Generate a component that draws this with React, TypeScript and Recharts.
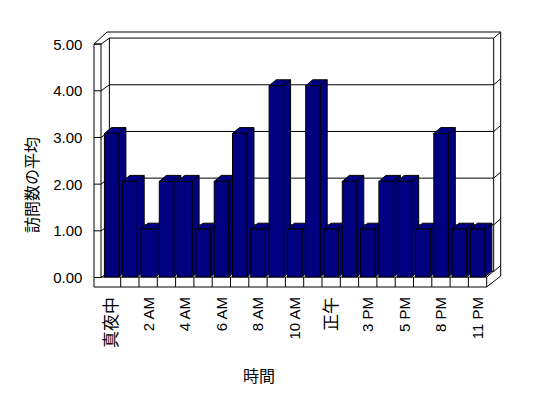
import React from 'react';
import { BarChart, Bar, XAxis, YAxis, CartesianGrid } from 'recharts';

// categories (hours that have data) and average visit counts
const hours = ['真夜中', '1 AM', '2 AM', '3 AM', '4 AM', '5 AM', '6 AM', '7 AM', '8 AM', '9 AM', '10 AM', '11 AM', '正午', '1 PM', '3 PM', '4 PM', '5 PM', '7 PM', '8 PM', '10 PM', '11 PM'];
const visits = [3, 2, 1, 2, 2, 1, 2, 3, 1, 4, 1, 4, 1, 2, 1, 2, 2, 1, 3, 1, 1];
const yTicks = [0, 1, 2, 3, 4, 5];

const data = hours.map((h, i) => ({ hour: h, visits: visits[i] }));

// plot area / fake 3D geometry
const W = 548;
const H = 398;
const PL = 102.4;
const PT = 38;
const PR = 486.7;
const PB = 277;
const YW = 60;
const XH = 80;
const DX = 7;
const DY = 6;
const WALL_L = 94;
const NAVY = '#000080';
const FONT = "'Liberation Sans', Arial, 'Noto Sans CJK JP', sans-serif";

const bandW = (PR - PL) / hours.length;
// the front axis is drawn a little flatter than the bars (perspective)
const front = (y: number) => PB + 0.5 - (PB - y) * 0.9766;

const Bar3D = (props: any) => {
  const { x, y, width, height } = props;
  if (height == null || height <= 0) return null;
  const r = x + width;
  return (
    <g stroke="#000" strokeWidth={1} fill={NAVY}>
      <polygon points={`${r},${y} ${r + DX},${y - DY} ${r + DX},${y + height - DY} ${r},${y + height}`} />
      <polygon points={`${x},${y} ${x + DX},${y - DY} ${r + DX},${y - DY} ${r},${y}`} />
      <rect x={x} y={y} width={width} height={height} />
    </g>
  );
};

const gridLine = (props: any) => {
  const g = front(props.y1);
  return (
    <g key={`gl-${props.index}-${g}`} stroke="#000" strokeWidth={1} fill="none">
      <line x1={WALL_L} y1={g} x2={PL - 1.4} y2={g} />
      <line x1={PL - 1.4} y1={g} x2={PL + DX} y2={g - DY} />
      <line x1={PL + DX} y1={g - DY} x2={PR + DX} y2={g - DY} />
      <line x1={PR + DX} y1={g - DY} x2={PR + DX + 7} y2={g - DY - 6} />
    </g>
  );
};

const YTick = (props: any) => {
  const { y, payload } = props;
  return (
    <text x={PL - 20} y={front(y)} textAnchor="end" dominantBaseline="central" fontSize={15} fontFamily={FONT} fill="#000">
      {Number(payload.value).toFixed(2)}
    </text>
  );
};

const XTick = (props: any) => {
  const { x, payload, index } = props;
  const i = index ?? payload.index;
  const left = x - bandW / 2;
  const right = x + bandW / 2;
  const ty = 297;
  const cjk = /[^\x00-\x7f]/.test(String(payload.value));
  return (
    <g>
      {i > 0 && <line x1={left} y1={PB} x2={left} y2={PB + 10} stroke="#000" />}
      {i === hours.length - 1 && <line x1={right} y1={PB} x2={right} y2={PB + 10} stroke="#000" />}
      {i % 2 === 0 && (
        <text
          x={x}
          y={ty}
          transform={`rotate(-90, ${x}, ${ty})`}
          textAnchor="end"
          dominantBaseline="central"
          fontSize={cjk ? 17 : 15}
          fontFamily={FONT}
          fill="#000"
        >
          {payload.value}
        </text>
      )}
    </g>
  );
};

const Frame = () => (
  <g stroke="#000" strokeWidth={1} fill="none">
    {/* left wall */}
    <line x1={WALL_L} y1={44} x2={WALL_L} y2={PB + 10} />
    <line x1={PL - 1.4} y1={44} x2={PL - 1.4} y2={PB} />
    <line x1={WALL_L} y1={44} x2={PL - 1.4} y2={44} />
    <line x1={WALL_L} y1={44} x2={107} y2={PT - 6} />
    <line x1={PL + DX} y1={PT} x2={PL + DX} y2={PB - DY} />
    {/* back wall thickness */}
    <line x1={107} y1={PT - 6} x2={PR + DX + 7} y2={PT - 6} />
    <line x1={PR + DX} y1={PT} x2={PR + DX} y2={PB - DY} />
    <line x1={PR + DX + 7} y1={PT - 6} x2={PR + DX + 7} y2={PB - 1} />
    {/* floor */}
    <line x1={PL - 1.4} y1={PB} x2={PR} y2={PB} />
    <line x1={WALL_L} y1={PB + 10} x2={PR} y2={PB + 10} />
    <line x1={PR} y1={PB} x2={PR + DX} y2={PB - DY} />
    <line x1={PR} y1={PB + 10} x2={PR + DX + 7} y2={PB - 1} />
  </g>
);

const App: React.FC = () => {
  return (
    <div style={{ position: 'absolute', left: 0, top: 0, width: W, height: H, background: '#fff' }}>
      <BarChart
        width={W}
        height={H}
        data={data}
        margin={{ top: PT, right: W - PR, left: PL - YW, bottom: H - PB - XH }}
      >
        <CartesianGrid vertical={false} horizontal={gridLine} />
        <Frame />
        <XAxis
          dataKey="hour"
          interval={0}
          height={XH}
          axisLine={false}
          tickLine={false}
          tickSize={0}
          tickMargin={0}
          tick={XTick}
        />
        <YAxis
          domain={[0, 5]}
          ticks={yTicks}
          width={YW}
          axisLine={false}
          tickLine={false}
          tick={YTick}
        />
        <Bar dataKey="visits" barSize={14.5} shape={Bar3D} isAnimationActive={false} />
        <text x={32} y={185} transform="rotate(-90, 32, 185)" textAnchor="middle" dominantBaseline="central" fontSize={16} fontFamily={FONT} fill="#000">
          訪問数の平均
        </text>
        <text x={259} y={376} textAnchor="middle" dominantBaseline="central" fontSize={16} fontFamily={FONT} fill="#000">
          時間
        </text>
      </BarChart>
    </div>
  );
};

export default App;
